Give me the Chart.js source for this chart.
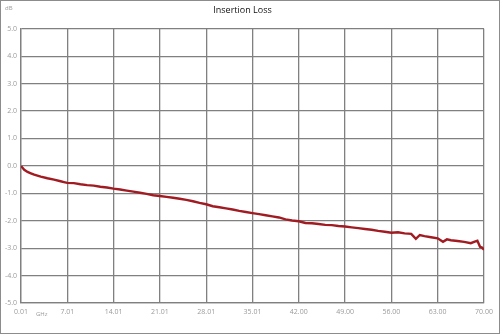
<!DOCTYPE html>
<html><head><meta charset="utf-8">
<script src="https://cdn.jsdelivr.net/npm/chart.js@4/dist/chart.umd.min.js"></script>
<style>
html,body{margin:0;padding:0;background:#fff;}
#wrap{width:498px;height:332px;border:1px solid #8c8c8c;}
canvas{display:block;}
</style></head>
<body><div id="wrap"><canvas id="c" width="498" height="332"></canvas></div>
<script>
const freqGHz = [0.01,0.5,1,1.5,2,3,4,5,6,6.5,7,8,9,10,11,12,13,14,15,16,17,18,19,20,21,22,23,24,25,26,27,28,29,30,31,32,33,34,35,36,37,38,39,40,41,42,43,44,45,46,47,48,49,50,51,52,53,54,55,56,57,58,59,59.7,60.3,61,62,63,63.8,64.4,65,66,67,68,68.6,69,69.4,69.7,70];
const lossDB = [0.00,-0.14,-0.22,-0.27,-0.32,-0.39,-0.45,-0.50,-0.56,-0.59,-0.62,-0.63,-0.67,-0.70,-0.72,-0.76,-0.79,-0.83,-0.86,-0.90,-0.94,-0.98,-1.02,-1.07,-1.10,-1.13,-1.16,-1.20,-1.24,-1.29,-1.35,-1.40,-1.47,-1.51,-1.55,-1.59,-1.64,-1.68,-1.72,-1.76,-1.80,-1.84,-1.88,-1.95,-1.99,-2.02,-2.08,-2.09,-2.12,-2.15,-2.16,-2.19,-2.21,-2.24,-2.27,-2.30,-2.33,-2.37,-2.40,-2.44,-2.42,-2.46,-2.48,-2.66,-2.52,-2.56,-2.60,-2.64,-2.77,-2.68,-2.71,-2.74,-2.77,-2.82,-2.76,-2.73,-2.95,-2.98,-3.06];
const xTickValues = [0.01,7.01,14.01,21.01,28.01,35.01,42.00,49.00,56.00,63.00,70.00];
const xTickLabels = ["0.01","7.01","14.01","21.01","28.01","35.01","42.00","49.00","56.00","63.00","70.00"];
const yTickValues = [5,4,3,2,1,0,-1,-2,-3,-4,-5];
const chartTitle = "Insertion Loss";
const yUnit = "dB";
const xUnit = "GHz";

const FONT = "'Open Sans', 'Noto Sans', sans-serif";
const labelsPlugin = {
  id:'unitLabels',
  afterDraw(chart){
    const ctx = chart.ctx;
    ctx.save();
    ctx.fillStyle = '#9a9a9a';
    ctx.font = "6px " + FONT;
    ctx.textBaseline = 'middle';
    ctx.textAlign = 'left';
    ctx.fillText(yUnit, 4, 7);
    ctx.fillText(xUnit, 35, 313);
    ctx.restore();
  }
};

new Chart(document.getElementById('c'), {
  type:'line',
  data:{datasets:[{
    data: freqGHz.map((x,i)=>({x:x,y:lossDB[i]})),
    borderColor:'#a01c22', borderWidth:2.4, pointRadius:0, tension:0, fill:false
  }]},
  options:{
    responsive:false, animation:false,
    layout:{padding:{left:0,right:15,top:0,bottom:0}},
    plugins:{
      legend:{display:false}, tooltip:{enabled:false},
      title:{display:true, text:chartTitle, color:'#111', font:{family:FONT,size:9,weight:'normal'}, padding:{top:4,bottom:13}}
    },
    scales:{
      x:{type:'linear', min:0.01, max:70,
        afterBuildTicks(s){ s.ticks = xTickValues.map(v=>({value:v})); },
        afterFit(s){ s.height = 30; },
        ticks:{callback:(v,i)=>xTickLabels[i], color:'#9a9a9a', font:{family:FONT,size:7}, padding:5, maxRotation:0, autoSkip:false},
        grid:{color:'#808080', lineWidth:1.3, drawTicks:false},
        border:{color:'#808080', width:1.3}
      },
      y:{min:-5, max:5,
        afterBuildTicks(s){ s.ticks = yTickValues.map(v=>({value:v})); },
        afterFit(s){ s.width = 20; },
        ticks:{callback:v=>v.toFixed(1), color:'#9a9a9a', font:{family:FONT,size:7}, padding:4},
        grid:{color:'#808080', lineWidth:1.3, drawTicks:false},
        border:{color:'#808080', width:1.3}
      }
    }
  },
  plugins:[labelsPlugin]
});
</script></body></html>
